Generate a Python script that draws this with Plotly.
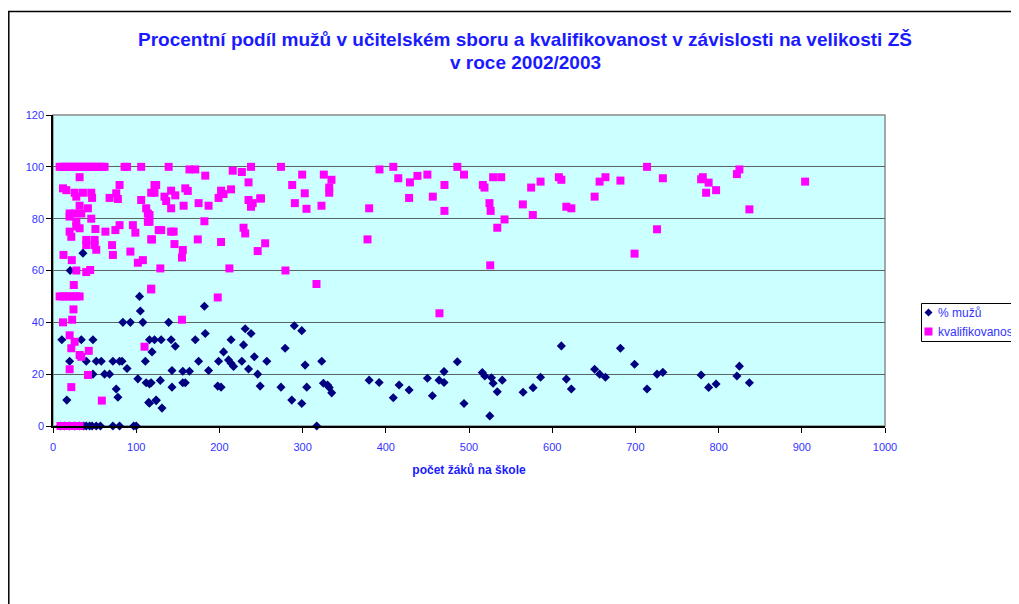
import plotly.graph_objects as go

# ---- data ----
muzi_x = [9, 14, 20, 26, 32, 37, 40, 44, 47, 52, 57, 72, 80, 97, 100, 317,
          10.6, 16.6, 20.6, 36, 34, 48, 20, 40, 52, 58, 72, 80, 83, 89, 48, 62, 68,
          102, 112, 118, 76, 78, 115, 124, 104, 105, 84, 93, 108, 111, 116, 122,
          119, 130, 139, 142, 147, 143, 156, 164, 129, 116, 156, 159, 143, 116,
          124, 131, 182, 183, 171, 175, 187, 198, 202, 199, 205, 211, 214, 217,
          214, 227, 229, 231, 238, 235, 242, 246, 249, 257, 279, 290, 299, 303,
          323, 274, 305, 325, 330, 332, 335, 287, 299, 380, 392, 416, 409, 428,
          450, 456, 464, 470, 470, 486, 494, 516, 519, 527, 529, 534, 540, 525,
          565, 577, 586, 611, 617, 623, 651, 657, 664, 682, 699, 714, 726, 733,
          779, 788, 797, 822, 825, 837]
muzi_y = [0, 0, 0, 0, 0, 0, 0, 0, 0, 0, 0, 0, 0, 0, 0, 0,
          33.3, 10, 60, 66.7, 33.3, 33.3, 25, 25, 25, 25, 25, 25, 25, 22.2, 20, 20, 20,
          18.2, 16.7, 16.7, 14.3, 11.1, 9.1, 10, 50, 44.4, 40, 40, 40, 25, 33.3, 33.3,
          28.6, 33.3, 40, 33.3, 30.8, 21.4, 21.1, 21.1, 17.6, 16.2, 16.7, 16.7, 15, 8.8,
          9.8, 6.9, 46.2, 35.7, 33.3, 25, 21.4, 15.4, 15, 25, 28.6, 25.5, 24.2, 23,
          33.3, 25, 31.3, 37.5, 35.7, 22, 26.7, 20, 15.4, 25, 30, 38.7, 36.8, 23.5,
          25, 15, 15, 16.5, 15.8, 14.9, 12.8, 10, 8.7, 17.7, 16.8, 15.8, 10.9, 13.9,
          18.4, 11.7, 17.7, 21, 16.8, 24.8, 8.7, 20.6, 19.3, 18.6, 16.5, 13.2, 17.7, 3.9,
          13, 14.8, 18.8, 30.9, 18.1, 14.3, 21.9, 20, 18.8, 30, 23.8, 14.3, 20, 20.7,
          19.7, 14.9, 16.2, 19.3, 23.1, 16.7]

kval_x = [8, 11, 14, 17, 20, 23, 26, 29, 32, 35, 38, 41, 44, 47, 50, 53, 56, 59, 62,
          86, 89, 106, 139, 164, 171, 238, 274, 409, 486, 714,
          12, 16, 32, 26, 36, 46, 28, 47, 32, 42, 20, 26, 34, 20, 28, 46, 28, 32, 20,
          22, 51, 40, 50, 40, 50, 52, 12.6, 22.6, 28, 40, 44.7, 25, 63, 71, 72, 68,
          76, 80, 78, 80, 96, 99, 75, 93, 102, 108, 118, 106, 112, 114, 114, 118, 124,
          127, 118,
          8, 12, 16, 20, 24, 28, 32, 24.6, 12, 23, 20, 26, 22, 32, 34, 43, 20, 42, 22,
          58.7, 110, 118,
          9, 12, 15, 18, 21, 24, 27, 30, 32,
          122, 122, 142, 147, 159, 162, 134, 136, 142, 157, 175, 187, 202, 205, 214,
          199, 235, 240, 238, 249, 116, 116, 182, 130, 142, 145, 119, 174, 202, 229,
          231, 146, 156, 155, 246, 255, 129, 212, 183, 216, 227, 235, 198, 155,
          299.5, 325.5, 334.7, 287.5, 302.6, 332, 332, 250, 290.7, 304.7, 322.7, 380,
          392.4, 415, 429, 428, 279.4, 316.7, 378,
          438, 450, 456.5, 470.5, 470.5, 494, 516.6, 518.6, 529, 538.7, 524.6, 526,
          542.7, 534, 525.5, 464.5, 564.7, 574.7, 586, 576.7,
          608, 611, 617, 623, 651, 657, 664, 682, 733, 726, 699, 779, 781, 788, 785,
          797, 822, 825, 837, 904]
kval_y = [100, 100, 100, 100, 100, 100, 100, 100, 100, 100, 100, 100, 100, 100, 100,
          100, 100, 100, 100, 100, 100, 100, 100, 99, 99, 100, 100, 100, 100, 100,
          91.7, 91, 96, 90, 90, 90, 88.5, 88, 85, 84, 82, 82, 82, 80.8, 78.8, 80, 77,
          76.3, 75, 73, 76, 71.8, 71.8, 69.8, 69.8, 68, 66, 64, 60, 59.4, 60.2, 54.4,
          75, 69.8, 66, 88, 89.8, 93, 87.6, 77.5, 77.5, 74.6, 75.6, 67.3, 63, 64, 72,
          87.2, 84, 82, 78.8, 90, 93, 75.6, 53,
          50, 50, 50, 50, 50, 50, 50, 45, 40, 41, 35, 32.5, 30, 27.4, 26.7, 29, 21.9,
          19.7, 15, 9.8, 30.6, 52.7,
          0, 0, 0, 0, 0, 0, 0, 0, 0,
          93, 90, 90.8, 89, 91.7, 90.7, 88.5, 86.8, 84, 85, 86, 85, 90.8, 89.5, 91.3,
          88, 87.2, 86, 84.6, 87.8, 81.4, 78.8, 79, 75.6, 75, 75, 72, 72, 71, 76.5,
          74.3, 70.2, 67.9, 65, 67.5, 70.5, 60.8, 60.8, 96.6, 98.5, 98, 94, 49.6, 41,
          97, 97, 95, 93, 89.8, 92, 90, 87.8, 86, 83.8, 85, 84,
          99, 95.6, 94, 88, 60, 54.8, 72,
          96.5, 97, 88.5, 93, 83, 97, 93, 92, 96, 96, 86, 83,
          79.7, 76.5, 62, 43.5, 85.5, 92, 94.3, 81.4,
          96, 95, 84.6, 84, 88.5, 94.3, 96, 94.7, 95.6, 75.9, 66.5, 95.2, 96, 93.9, 90,
          91, 97.2, 99, 83.6, 94.3]

series_names = ["% mužů", "kvalifikovanost"]
series_colors = ["#000080", "#ff00ff"]
title_line1 = "Procentní podíl mužů v učitelském sboru a kvalifikovanost v závislosti na velikosti ZŠ"
title_line2 = "v roce 2002/2003"
x_title = "počet žáků na škole"

FONT = "Liberation Sans, Arial, sans-serif"
BLUE = "#3333ff"

# The page body has an 8px margin, so the figure starts at page (8, 8).
OFF = 8
W, H = 1019 - OFF, 604 - OFF
L, T = 53 - OFF, 115 - OFF
pw, ph = 832, 311
R = W - L - pw
B = H - T - ph


def fx(page_x):  # page pixel -> paper x
    return (page_x - OFF - L) / pw


def fy(page_y):  # page pixel -> paper y
    return (H - B - (page_y - OFF)) / ph


fig = go.Figure()
fig.add_trace(go.Scatter(
    x=muzi_x, y=muzi_y, mode="markers", name=series_names[0],
    marker=dict(symbol="diamond", size=7, color=series_colors[0], line=dict(width=0)),
    cliponaxis=False, showlegend=False,
))
fig.add_trace(go.Scatter(
    x=kval_x, y=kval_y, mode="markers", name=series_names[1],
    marker=dict(symbol="square", size=8, color=series_colors[1], line=dict(width=0)),
    cliponaxis=False, showlegend=False,
))

shapes = []
# outer chart border
shapes.append(dict(type="rect", xref="paper", yref="paper",
                   x0=fx(OFF + 0.8), x1=fx(1040), y0=fy(640), y1=fy(11.5),
                   line=dict(color="black", width=1.5), fillcolor="rgba(0,0,0,0)", layer="below"))
# plot-area border (grey)
shapes.append(dict(type="rect", xref="paper", yref="paper", x0=0, x1=1, y0=0, y1=1,
                   line=dict(color="#8c8c8c", width=1.5), fillcolor="rgba(0,0,0,0)", layer="below"))
# legend box
shapes.append(dict(type="rect", xref="paper", yref="paper",
                   x0=fx(921.5), x1=fx(1040), y0=fy(341.5), y1=fy(303.5),
                   line=dict(color="black", width=1), fillcolor="white", layer="above"))
# legend symbols
shapes.append(dict(type="path", xref="paper", yref="paper", xsizemode="pixel", ysizemode="pixel",
                   xanchor=fx(928.5), yanchor=fy(312.5),
                   path="M -4 0 L 0 4 L 4 0 L 0 -4 Z",
                   line=dict(width=0), fillcolor=series_colors[0], layer="above"))
shapes.append(dict(type="rect", xref="paper", yref="paper", xsizemode="pixel", ysizemode="pixel",
                   xanchor=fx(928.5), yanchor=fy(331.5), x0=-4, x1=4, y0=-4, y1=4,
                   line=dict(width=0), fillcolor=series_colors[1], layer="above"))

annotations = []
for name, py in zip(series_names, [312.5, 331.5]):
    annotations.append(dict(text=name, xref="paper", yref="paper", x=fx(936), y=fy(py),
                            xanchor="left", yanchor="middle", showarrow=False,
                            font=dict(family=FONT, size=12, color=BLUE)))
# title, two centred lines
for txt, py in zip([title_line1, title_line2], [40, 63]):
    annotations.append(dict(text="<b>" + txt + "</b>", xref="paper", yref="paper",
                            x=fx(525), y=fy(py), xanchor="center", yanchor="middle",
                            showarrow=False,
                            font=dict(family=FONT, size=19, color="#1a1aff")))

fig.update_layout(
    width=W, height=H,
    margin=dict(l=L, r=R, t=T, b=B, autoexpand=False),
    paper_bgcolor="white", plot_bgcolor="#ccffff",
    font=dict(family=FONT, size=11, color=BLUE),
    showlegend=False,
    shapes=shapes,
    annotations=annotations,
)
fig.update_xaxes(range=[0, 1000], dtick=100, tick0=0, showgrid=False, zeroline=False,
                 showline=True, linecolor="black", linewidth=1.5,
                 ticks="outside", ticklen=5, tickcolor="black", ticklabelstandoff=5,
                 tickfont=dict(family=FONT, size=11, color=BLUE),
                 title=dict(text="<b>" + x_title + "</b>", standoff=14,
                            font=dict(family=FONT, size=12, color="#1a1aff")))
fig.update_yaxes(range=[0, 120], dtick=20, tick0=0, showgrid=True, gridcolor="#5a6666",
                 gridwidth=1, zeroline=False,
                 showline=True, linecolor="black", linewidth=1.5,
                 ticks="outside", ticklen=5, tickcolor="black",
                 tickfont=dict(family=FONT, size=11, color=BLUE))

fig.write_html("out.html")
